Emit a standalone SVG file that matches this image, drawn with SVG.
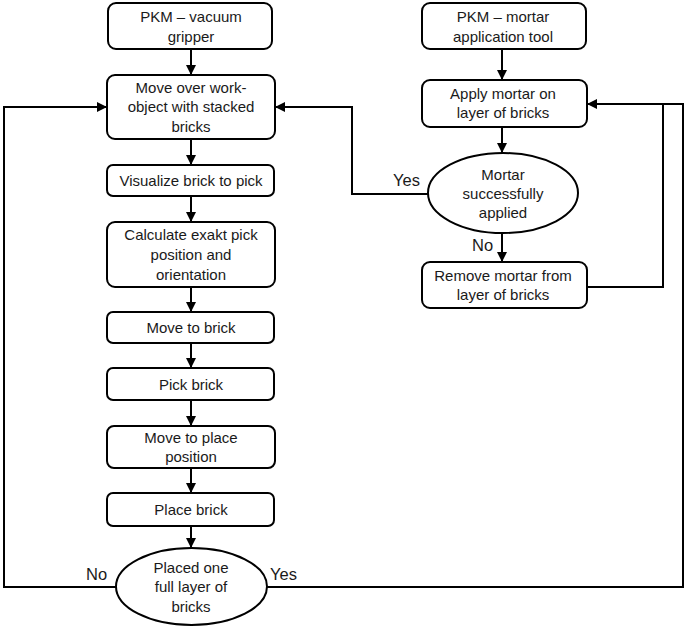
<svg xmlns="http://www.w3.org/2000/svg" width="685" height="628" viewBox="0 0 685 628">
<style>
.n{fill:#fff;stroke:#000;stroke-width:2}
.t{font-family:"Liberation Sans",Arial,sans-serif;font-size:15px;fill:#1a1a1a;text-anchor:middle}
.l{font-family:"Liberation Sans",Arial,sans-serif;font-size:16.5px;fill:#1a1a1a}
.c{fill:none;stroke:#000;stroke-width:2}
</style>
<defs>
<marker id="a" viewBox="0 0 10 10" refX="10" refY="5" markerWidth="5" markerHeight="5" orient="auto" markerUnits="strokeWidth">
<path d="M0,0 L10,5 L0,10 z" fill="#000"/>
</marker>
</defs>
<rect width="685" height="628" fill="#fff"/>
<g id="connectors">
<path class="c" marker-end="url(#a)" d="M191,49 V75"/>
<path class="c" marker-end="url(#a)" d="M191,139 V165"/>
<path class="c" marker-end="url(#a)" d="M191,196 V222"/>
<path class="c" marker-end="url(#a)" d="M191,287 V312"/>
<path class="c" marker-end="url(#a)" d="M191,343 V368"/>
<path class="c" marker-end="url(#a)" d="M191,400 V426"/>
<path class="c" marker-end="url(#a)" d="M191,468 V493"/>
<path class="c" marker-end="url(#a)" d="M191,526 V548"/>
<path class="c" marker-end="url(#a)" d="M116,587 H4 V107 H107"/>
<path class="c" marker-end="url(#a)" d="M267,587 H683 V104 H587"/>
<path class="c" d="M585,287 H663 V104"/>
<path class="c" marker-end="url(#a)" d="M502,49 V80"/>
<path class="c" marker-end="url(#a)" d="M502,127 V153"/>
<path class="c" marker-end="url(#a)" d="M502,233 V262"/>
<path class="c" marker-end="url(#a)" d="M428,194 H352 V107 H275"/>
<text class="l" x="86" y="580">No</text>
<text class="l" x="270" y="580">Yes</text>
<text class="l" x="393" y="186">Yes</text>
<text class="l" x="472" y="251">No</text>
</g>
<g id="n1"><rect class="n" x="108" y="3" width="164" height="46" rx="8"/><text class="t" x="191" y="22">PKM – vacuum</text><text class="t" x="191" y="42">gripper</text></g>
<g id="n2"><rect class="n" x="107" y="75" width="168" height="64" rx="8"/><text class="t" x="191" y="93">Move over work-</text><text class="t" x="191" y="112">object with stacked</text><text class="t" x="191" y="132">bricks</text></g>
<g id="n3"><rect class="n" x="107" y="165" width="167" height="31" rx="6"/><text class="t" x="191" y="186">Visualize brick to pick</text></g>
<g id="n4"><rect class="n" x="107" y="222" width="168" height="65" rx="8"/><text class="t" x="191" y="240">Calculate exakt pick</text><text class="t" x="191" y="260">position and</text><text class="t" x="191" y="280">orientation</text></g>
<g id="n5"><rect class="n" x="107" y="312" width="167" height="31" rx="6"/><text class="t" x="191" y="333">Move to brick</text></g>
<g id="n6"><rect class="n" x="107" y="368" width="167" height="32" rx="6"/><text class="t" x="191" y="390">Pick brick</text></g>
<g id="n7"><rect class="n" x="107" y="426" width="168" height="42" rx="7"/><text class="t" x="191" y="443">Move to place</text><text class="t" x="191" y="462">position</text></g>
<g id="n8"><rect class="n" x="107" y="493" width="167" height="33" rx="6"/><text class="t" x="191" y="515">Place brick</text></g>
<g id="n9"><ellipse class="n" cx="191.5" cy="586.5" rx="75.5" ry="38.5"/><text class="t" x="191" y="573">Placed one</text><text class="t" x="191" y="592">full layer of</text><text class="t" x="191" y="612">bricks</text></g>
<g id="r1"><rect class="n" x="422" y="3" width="164" height="46" rx="8"/><text class="t" x="503" y="22">PKM – mortar</text><text class="t" x="503" y="42">application tool</text></g>
<g id="r2"><rect class="n" x="422" y="80" width="165" height="47" rx="8"/><text class="t" x="503" y="99">Apply mortar on</text><text class="t" x="503" y="118">layer of bricks</text></g>
<g id="r3"><ellipse class="n" cx="503" cy="193" rx="75" ry="40"/><text class="t" x="503" y="180">Mortar</text><text class="t" x="503" y="199">successfully</text><text class="t" x="503" y="218">applied</text></g>
<g id="r4"><rect class="n" x="422" y="262" width="165" height="46" rx="8"/><text class="t" x="503" y="281">Remove mortar from</text><text class="t" x="503" y="300">layer of bricks</text></g>
</svg>
